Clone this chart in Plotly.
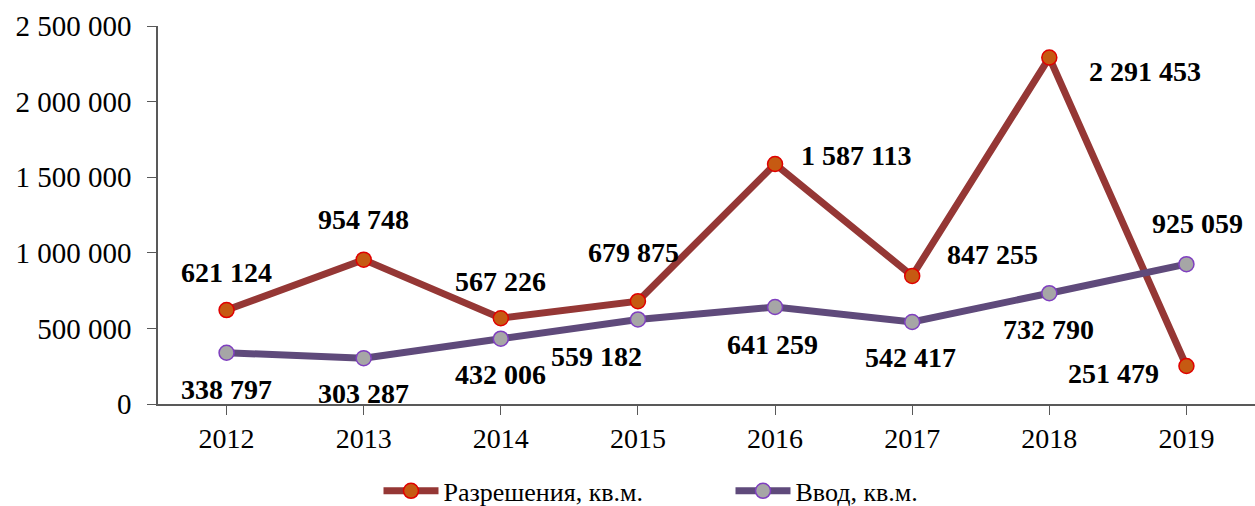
import plotly.graph_objects as go

years = ["2012", "2013", "2014", "2015", "2016", "2017", "2018", "2019"]
permits = [621124, 954748, 567226, 679875, 1587113, 847255, 2291453, 251479]
commissioned = [338797, 303287, 432006, 559182, 641259, 542417, 732790, 925059]
y_ticks = [0, 500000, 1000000, 1500000, 2000000, 2500000]

def fmt(v):
    return f"{v:,}".replace(",", " ")

# label offsets (pixels) relative to each point
permit_off = [(0, 38), (0, 40), (0, 37), (-4, 49), (81, 9), (80, 21), (96, -14), (-73, -8)]
comm_off = [(0, -37), (0, -35), (0, -36), (-41, -37), (-3, -37), (-2, -36), (-1, -36), (11, 41)]

FONT = "Liberation Serif"

fig = go.Figure()
fig.add_trace(go.Scatter(
    x=years, y=permits, name="Разрешения, кв.м.", mode="lines+markers",
    line=dict(color="#953735", width=7),
    marker=dict(size=15, color="#C65A12", line=dict(color="#E00000", width=1.5)),
))
fig.add_trace(go.Scatter(
    x=years, y=commissioned, name="Ввод, кв.м.", mode="lines+markers",
    line=dict(color="#5F4A7B", width=7),
    marker=dict(size=15, color="#A6A6A6", line=dict(color="#7F3FBF", width=1.5)),
))

for vals, offs in ((permits, permit_off), (commissioned, comm_off)):
    for i, (v, (dx, dy)) in enumerate(zip(vals, offs)):
        fig.add_annotation(x=i, y=v, xref="x", yref="y", text=f"<b>{fmt(v)}</b>",
                           showarrow=False, xshift=dx, yshift=dy,
                           font=dict(family=FONT, size=28, color="#000000"))

fig.update_layout(
    width=1255, height=506,
    margin=dict(l=158, r=0, t=26, b=102, autoexpand=False),
    paper_bgcolor="white", plot_bgcolor="white",
    font=dict(family=FONT, size=26, color="#000000"),
    showlegend=True,
    legend=dict(orientation="h", x=0.201, xanchor="left", y=-0.23, yanchor="middle",
                font=dict(family=FONT, size=26), itemwidth=55,
                entrywidth=282, entrywidthmode="pixels"),
)
fig.update_xaxes(type="category", range=[-0.5, 7.5], showgrid=False, automargin=False,
                 showline=True, linecolor="#595959", linewidth=1.5,
                 ticks="outside", ticklen=9, tickcolor="#595959",
                 tickfont=dict(family=FONT, size=28))
fig.update_yaxes(range=[0, 2500000], showgrid=False, zeroline=False, automargin=False,
                 showline=True, linecolor="#595959", linewidth=1.5,
                 ticks="outside", ticklen=9, tickcolor="#595959", ticklabelstandoff=10,
                 tickvals=y_ticks, ticktext=[fmt(v) for v in y_ticks],
                 tickfont=dict(family=FONT, size=29))

fig.write_html("out.html", config={"displayModeBar": False},
               post_script="document.body.style.margin='0';document.body.style.overflow='hidden';")
